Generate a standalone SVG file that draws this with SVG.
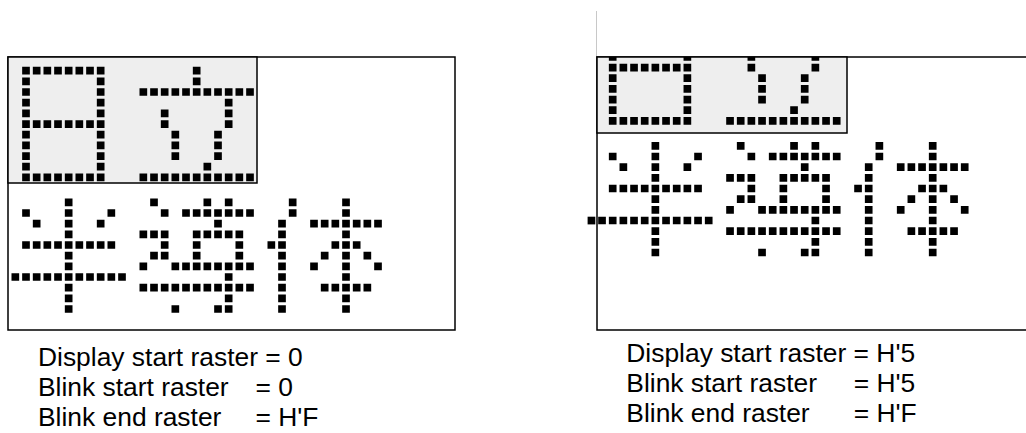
<svg xmlns="http://www.w3.org/2000/svg" xmlns:xlink="http://www.w3.org/1999/xlink" width="1026" height="433" viewBox="0 0 1026 433">
<style>
.box{fill:#fff;stroke:#000;stroke-width:1.5}
.cur{fill:#eeeeee;stroke:#000;stroke-width:1.5}
.run{fill:none;stroke:#000;stroke-width:.72;stroke-dasharray:.72 .28}
.lbl{font-family:"Liberation Sans",Arial,sans-serif;font-size:26.4px;fill:#000}
</style>
<defs>
<g id="chars">
<g transform="translate(26 70.7) scale(10.667)">
<path id="c-nichi" class="run" d="M0 -.36V10.36M7 -.36V10.36M.64 0H6.36M.64 5H6.36M.64 10H6.36"/>
<path id="c-tatsu" class="run" d="M16 -.36V1.36M10.64 2H21.36M19 2.64V5.36M13 3.64V5.36M14 5.64V8.36M18 5.64V8.36M16.64 9H17.36M10.64 10H21.36"/>
</g>
<g transform="translate(26 202.3) scale(10.667)">
<path id="c-han" class="run" d="M4 -.36V10.36M-.36 1H.36M7.64 1H8.36M.64 2H1.36M6.64 2H7.36M-.36 4H8.36M-1.36 7H9.36"/>
<path id="c-dou" class="run" d="M11.64 0h.72M16.64 0h.72M18.64 0h.72M12.64 1h.72M14.64 1H21.36M17.64 2h.72M10.64 3H13.36M15.64 3H20.36M12.64 4h.72M15.64 4h.72M19.64 4h.72M11.64 5H13.36M15.64 5h.72M19.64 5h.72M10.64 6h.72M13.64 6H21.36M18.64 7h.72M10.64 8H21.36M18.64 9h.72M13.64 10h.72M17.64 10H19.36"/>
<path id="c-tai" class="run" d="M24 1.64V10.36M30 -.36V10.36M25 -.36V1.36M26.64 2H33.36M22.64 4h.72M28.64 4h.72M30.64 4h.72M27.64 5h.72M31.64 5h.72M26.64 6h.72M32.64 6h.72M27.64 8H32.36"/>
</g>
</g>
<clipPath id="clipR"><rect x="0" y="57" width="1026" height="376"/></clipPath>
</defs>
<rect width="1026" height="433" fill="#fff"/>
<line x1="596.5" y1="11" x2="596.5" y2="57" stroke="#c8c8c8" stroke-width="1"/>
<g id="panel-left">
<rect class="box" x="8" y="57" width="447" height="273"/>
<rect class="cur" x="8" y="57" width="249" height="126"/>
<use xlink:href="#chars" href="#chars"/>
</g>
<g id="panel-right">
<path class="box" d="M1030 57H597V330H1030"/>
<rect class="cur" x="597" y="57" width="250" height="76"/>
<g clip-path="url(#clipR)">
<use xlink:href="#chars" href="#chars" transform="translate(586.7 -56.5)"/>
</g>
<rect x="587.6" y="216.7" width="7.7" height="7.7" fill="#000"/>
</g>
<g id="labels-left" class="lbl">
<text x="38" y="366">Display start raster = 0</text>
<text x="38" y="396">Blink start raster<tspan x="255.4">= 0</tspan></text>
<text x="38" y="426">Blink end raster<tspan x="255.4">= H'F</tspan></text>
</g>
<g id="labels-right" class="lbl">
<text x="626.3" y="362">Display start raster = H'5</text>
<text x="626.3" y="392">Blink start raster<tspan x="853.7">= H'5</tspan></text>
<text x="626.3" y="422">Blink end raster<tspan x="853.7">= H'F</tspan></text>
</g>
</svg>
